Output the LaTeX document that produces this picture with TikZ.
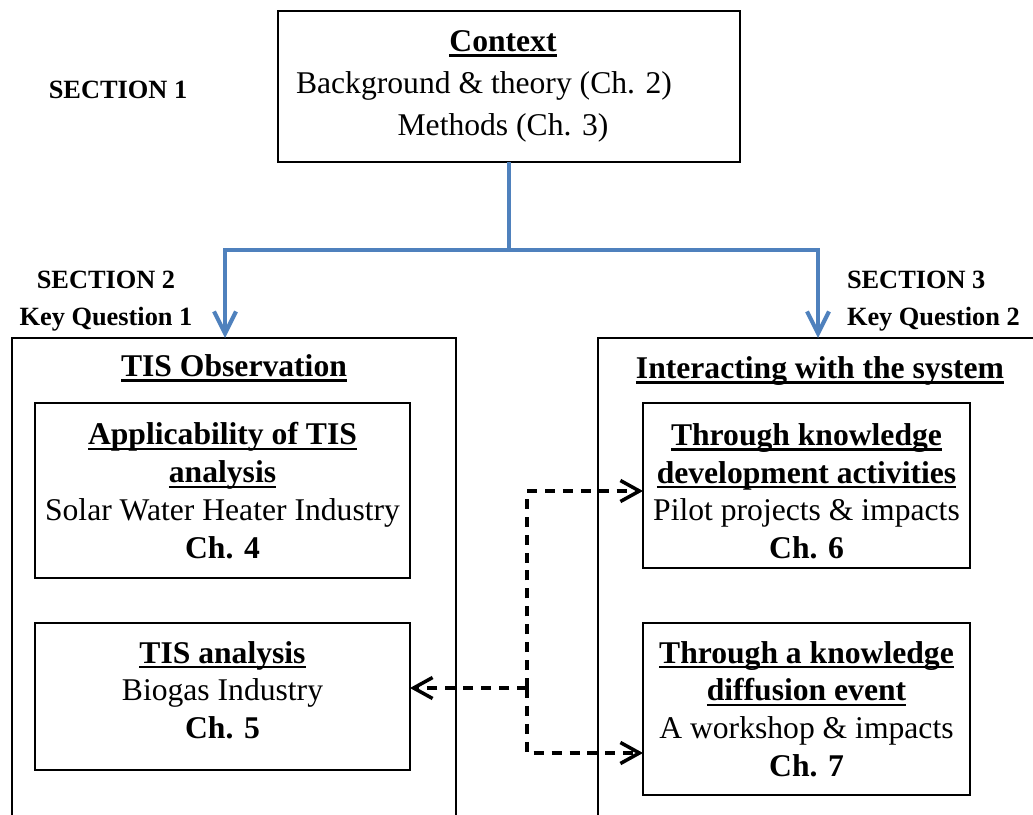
\documentclass[tikz,border=0pt]{standalone}
\usepackage{fontspec}
\setmainfont{Liberation Serif}
\usetikzlibrary{arrows.meta}
\definecolor{flowblue}{RGB}{79,129,189}
\newcommand{\hdul}[1]{\setbox0\hbox{#1}\rlap{\rule[-3pt]{\wd0}{1.3pt}}\box0}
\begin{document}
\begin{tikzpicture}[x=0.02cm,y=-0.02cm,inner sep=0pt,outer sep=0pt,
font=\fontsize{18}{21.5}\selectfont,
block/.style={draw,line width=0.9pt,align=center},
seclabel/.style={font=\fontsize{15}{21}\selectfont\bfseries},
heading/.style={font=\fontsize{18}{21.5}\selectfont\bfseries},
flow/.style={draw=flowblue,line width=2.3pt},
link/.style={dash pattern=on 5.7pt off 4.5pt,line width=2pt,-{Straight Barb[length=0.38cm,width=0.42cm]}}]
\useasboundingbox (0,0) rectangle (1033,814);
\clip (0,0) rectangle (1033,814);
% context and sections
\node[block,minimum width=9.24cm,minimum height=3.02cm,font=\fontsize{18}{24}\selectfont] (ctx) at (509,86.5)
  {\textbf{\hdul{Context}}\kern0.24cm\relax\\Background \& theory (Ch. 2)\kern1cm\relax\\Methods (Ch. 3)\kern0.24cm\rule[-4pt]{0pt}{4pt}};
\node[seclabel] (sec1) at (118,90) {SECTION 1};
\node[seclabel,align=center] (sec2) at (106,301.5) {SECTION 2\\Key Question 1};
\node[seclabel,align=left,anchor=west] (sec3) at (847,301.5) {SECTION 3\\Key Question 2};
% the two parts
\node[block,anchor=north,minimum width=8.88cm,minimum height=10cm] (obs) at (234,338) {};
\node[block,anchor=north,minimum width=9.24cm,minimum height=10cm] (sys) at (829,338) {};
\node[heading] (obshead) at (234,368) {\hdul{TIS Observation}};
\node[heading] (syshead) at (820,371) {\hdul{Interacting with the system}};
\node[block,minimum width=7.5cm,minimum height=3.5cm] (app) at (222.5,490.5)
  {\textbf{\hdul{Applicability of TIS}}\\\textbf{\hdul{analysis}}\\Solar Water Heater Industry\\\textbf{Ch. 4}};
\node[block,minimum width=7.5cm,minimum height=2.94cm] (tis) at (222.5,696.5)
  {\textbf{\hdul{TIS analysis}}\\Biogas Industry\\\textbf{Ch. 5}\rule[-7.4pt]{0pt}{7.4pt}};
\node[block,minimum width=6.54cm,minimum height=3.3cm] (know) at (806.5,485.5)
  {\rule{0pt}{19pt}\textbf{\hdul{Through knowledge}}\\\textbf{\hdul{development activities}}\\Pilot projects \& impacts\\\textbf{Ch. 6}};
\node[block,minimum width=6.54cm,minimum height=3.44cm] (diff) at (806.5,709)
  {\textbf{\hdul{Through a knowledge}}\\\textbf{\hdul{diffusion event}}\\A workshop \& impacts\\\textbf{Ch. 7}};
% blue flow
\coordinate (split) at (509,250);
\coordinate (ltip) at (225,338);
\coordinate (rtip) at (818,338);
\draw[flow] (ctx.south) -- (split);
\draw[flow,-{Straight Barb[length=0.44cm,width=0.44cm]}] (split) -| (ltip);
\draw[flow,-{Straight Barb[length=0.44cm,width=0.44cm]}] (split) -| (rtip);
% dashed links
\coordinate (hub) at (527,688);
\coordinate (up) at (527,491);
\coordinate (down) at (527,753);
\draw[link] (hub) -- (up) -- (up -| know.west);
\draw[link] (hub) -- (down) -- (down -| diff.west);
\draw[link] (hub) -- (hub -| tis.east);
\end{tikzpicture}
\end{document}
